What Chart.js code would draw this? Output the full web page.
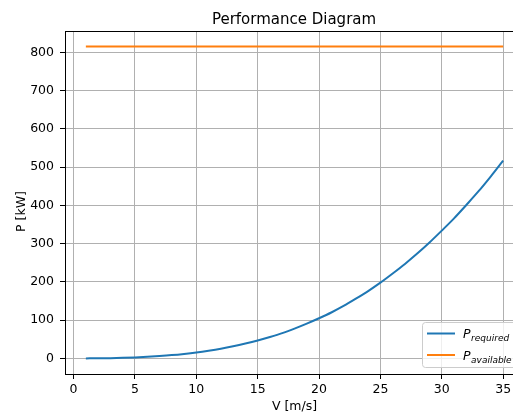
<!DOCTYPE html>
<html>
<head>
<meta charset="utf-8">
<script src="https://cdn.jsdelivr.net/npm/chart.js@4"></script>
<style>
  body { margin: 0; overflow: hidden; background: #fff; }
  #wrap { width: 525px; height: 412px; }
</style>
</head>
<body>
<div id="wrap"><canvas id="grafico" width="525" height="412"></canvas></div>
<script>
// velocidades (m/s) e potencias (kW)
const velocidades = [1, 2, 3, 4, 5, 6, 7, 8, 9, 10, 11, 12, 13, 14, 15, 16, 17, 18,
    19, 20, 21, 22, 23, 24, 25, 26, 27, 28, 29, 30, 31, 32, 33, 34, 35];
const potRequerida = [0, 0.3, 0.7, 1.5, 2.6, 4.1, 6.1, 8.6, 11.8, 15.6, 20.2, 25.5,
    31.8, 39, 47, 56, 66, 78, 91, 105, 120, 137, 156, 176, 198, 222, 247, 274, 303,
    334, 366, 401, 437, 476, 517];
const velDisponivel = [1, 35];
const potDisponivel = [815, 815];

const ticksX = [0, 5, 10, 15, 20, 25, 30, 35];
const ticksY = [0, 100, 200, 300, 400, 500, 600, 700, 800];

const fonte = '"DejaVu Sans", sans-serif';

function pontos(xs, ys) {
    return xs.map((v, i) => ({ x: v, y: ys[i] }));
}

// titulo, rotulos dos eixos, moldura e legenda
const extras = {
    id: 'extras',
    afterDraw(chart) {
        const ctx = chart.ctx;
        const area = chart.chartArea;
        ctx.save();

        // moldura superior e direita
        ctx.strokeStyle = '#000';
        ctx.lineWidth = 1;
        ctx.beginPath();
        ctx.moveTo(area.left, area.top + 0.5);
        ctx.lineTo(area.right, area.top + 0.5);
        ctx.moveTo(area.right - 0.5, area.top);
        ctx.lineTo(area.right - 0.5, area.bottom);
        ctx.stroke();

        ctx.fillStyle = '#000';
        ctx.font = '15px ' + fonte;
        ctx.textAlign = 'center';
        ctx.textBaseline = 'alphabetic';
        ctx.fillText('Performance Diagram', 294, 24);

        ctx.font = '12.5px ' + fonte;
        ctx.fillText('V [m/s]', 294.5, 409.5);

        ctx.save();
        ctx.translate(24.5, 211.5);
        ctx.rotate(-Math.PI / 2);
        ctx.fillText('P [kW]', 0, 0);
        ctx.restore();

        // legenda
        const lx = 422.5, ly = 322.5, lw = 96, lh = 45;
        ctx.beginPath();
        ctx.roundRect(lx, ly, lw, lh, 3);
        ctx.fillStyle = 'rgba(255,255,255,0.8)';
        ctx.fill();
        ctx.strokeStyle = '#cccccc';
        ctx.stroke();

        const itens = [
            { cor: '#1f77b4', sub: 'required', y: 333.5 },
            { cor: '#ff7f0e', sub: 'available', y: 355 }
        ];
        ctx.textAlign = 'left';
        itens.forEach(it => {
            ctx.strokeStyle = it.cor;
            ctx.lineWidth = 2;
            ctx.beginPath();
            ctx.moveTo(427, it.y);
            ctx.lineTo(455, it.y);
            ctx.stroke();
            ctx.fillStyle = '#000';
            ctx.font = 'italic 12.5px ' + fonte;
            ctx.fillText('P', 463, it.y + 4.8);
            const w = ctx.measureText('P').width;
            ctx.font = 'italic 9px ' + fonte;
            ctx.fillText(it.sub, 463 + w + 0.5, it.y + 7.5);
        });
        ctx.restore();
    }
};

new Chart(document.getElementById('grafico'), {
    type: 'line',
    data: {
        datasets: [{
            label: 'P_required',
            data: pontos(velocidades, potRequerida),
            borderColor: '#1f77b4',
            borderWidth: 2,
            pointRadius: 0,
            cubicInterpolationMode: 'monotone'
        }, {
            label: 'P_available',
            data: pontos(velDisponivel, potDisponivel),
            borderColor: '#ff7f0e',
            borderWidth: 2,
            pointRadius: 0,
            tension: 0
        }]
    },
    options: {
        responsive: false,
        animation: false,
        devicePixelRatio: 1,
        layout: { padding: { top: 31, right: 1, left: 0, bottom: 0 } },
        scales: {
            x: {
                type: 'linear',
                min: -0.7,
                max: 36.7,
                afterBuildTicks: s => { s.ticks = ticksX.map(v => ({ value: v })); },
                afterFit: s => { s.height = 38; },
                grid: { color: '#b0b0b0', lineWidth: 1, tickColor: '#000', tickLength: 5 },
                border: { display: true, color: '#000', width: 1 },
                ticks: {
                    color: '#000',
                    padding: 3,
                    maxRotation: 0,
                    font: { family: fonte, size: 12.5 }
                }
            },
            y: {
                min: -40.75,
                max: 855.75,
                afterBuildTicks: s => { s.ticks = ticksY.map(v => ({ value: v })); },
                afterFit: s => { s.width = 65; },
                grid: { color: '#b0b0b0', lineWidth: 1, tickColor: '#000', tickLength: 5 },
                border: { display: true, color: '#000', width: 1 },
                ticks: {
                    color: '#000',
                    padding: 6,
                    font: { family: fonte, size: 12.5 }
                }
            }
        },
        plugins: {
            legend: { display: false },
            tooltip: { enabled: false }
        }
    },
    plugins: [extras]
});
</script>
</body>
</html>
